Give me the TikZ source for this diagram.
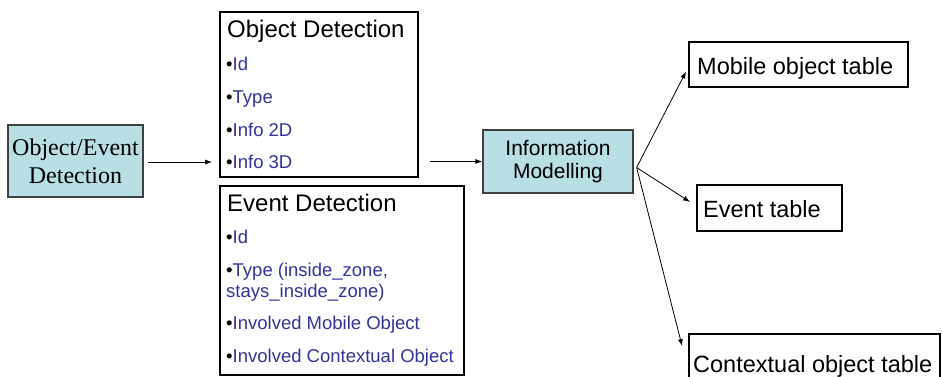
\documentclass[tikz,border=0pt]{standalone}
\usepackage{fontspec}
\setmainfont{Liberation Sans}
\newfontfamily\timesfont{Liberation Serif}
\usetikzlibrary{arrows.meta,calc}
\definecolor{itemblue}{RGB}{51,51,153}
\definecolor{boxcyan}{RGB}{184,223,227}
\newcommand\itembullet{{\color{black}\textbullet}}

\begin{document}
\begin{tikzpicture}[x=1pt,y=-1pt,
  frame/.style={draw=black,line width=1.8pt,inner sep=0pt},
  procbox/.style={draw=black!75,line width=1.2pt,fill=boxcyan,inner sep=0pt,align=center},
  title/.style={anchor=base west,inner sep=0pt,font=\fontsize{24}{28}\selectfont},
  item/.style={anchor=base west,inner sep=0pt,text=itemblue,font=\fontsize{18.5}{21}\selectfont},
  tbltext/.style={anchor=base west,inner sep=0pt,font=\fontsize{23.5}{28}\selectfont},
  arr/.style={-{Latex[length=7pt,width=5pt]},line width=0.8pt}]
\useasboundingbox (0,0) rectangle (942,377);
\clip (0,0) rectangle (942,377);

% source process
\node[procbox,minimum width=135pt,minimum height=72pt,
      font=\timesfont\fontsize{24}{28}\selectfont] (src) at (75.5,161) {Object/Event\\Detection};

% object detection panel
\node[frame,minimum width=198pt,minimum height=165pt] (od) at (319,94.5) {};
\node[title] (odt) at (227,38) {Object Detection};
\node[item] (od1) at (226,71) {\itembullet Id};
\node[item] (od2) at (226,104) {\itembullet Type};
\node[item] (od3) at (226,136) {\itembullet Info 2D};
\node[item] (od4) at (226,168) {\itembullet Info 3D};

% event detection panel
\node[frame,minimum width=244pt,minimum height=189pt] (ed) at (342,280.5) {};
\node[title] (edt) at (227,211) {Event Detection};
\node[item] (ed1) at (226,243) {\itembullet Id};
\node[item] (ed2) at (226,276) {\itembullet Type (inside\_zone,};
\node[item] (ed2b) at (226,297) {stays\_inside\_zone)};
\node[item] (ed3) at (226,329) {\itembullet Involved Mobile Object};
\node[item] (ed4) at (226,362) {\itembullet Involved Contextual Object};

% information modelling
\node[procbox,minimum width=150pt,minimum height=63pt,
      font=\fontsize{21}{23}\selectfont] (im) at (558,161.5) {Information\\Modelling};

% output tables
\node[frame,minimum width=219pt,minimum height=45pt] (mob) at (798.5,64.5) {};
\node[tbltext] (mobt) at (697,75) {Mobile object table};
\node[frame,minimum width=145pt,minimum height=46pt] (evt) at (769.5,208) {};
\node[tbltext] (evtt) at (703,217) {Event table};
\node[frame,minimum width=251pt,minimum height=70pt] (ctx) at (814.5,369) {};
\node[tbltext] (ctxt) at (693,372) {Contextual object table};

% connectors
\draw[arr] ($(src.east)+(4,1)$) -- ($(od.west |- src.east)+(-7,1)$);
\draw[arr] ($(od.east |- im.west)+(11,0)$) -- (im.west);
\coordinate (fan) at ($(im.east)+(3,6)$);
\draw[arr] (fan) -- ($(mob.west)+(-2,7)$);
\draw[arr] (fan) -- ($(evt.west)+(-6,-6)$);
\draw[arr] (fan) -- ($(ctx.north west)+(-6,13)$);
\end{tikzpicture}
\end{document}
